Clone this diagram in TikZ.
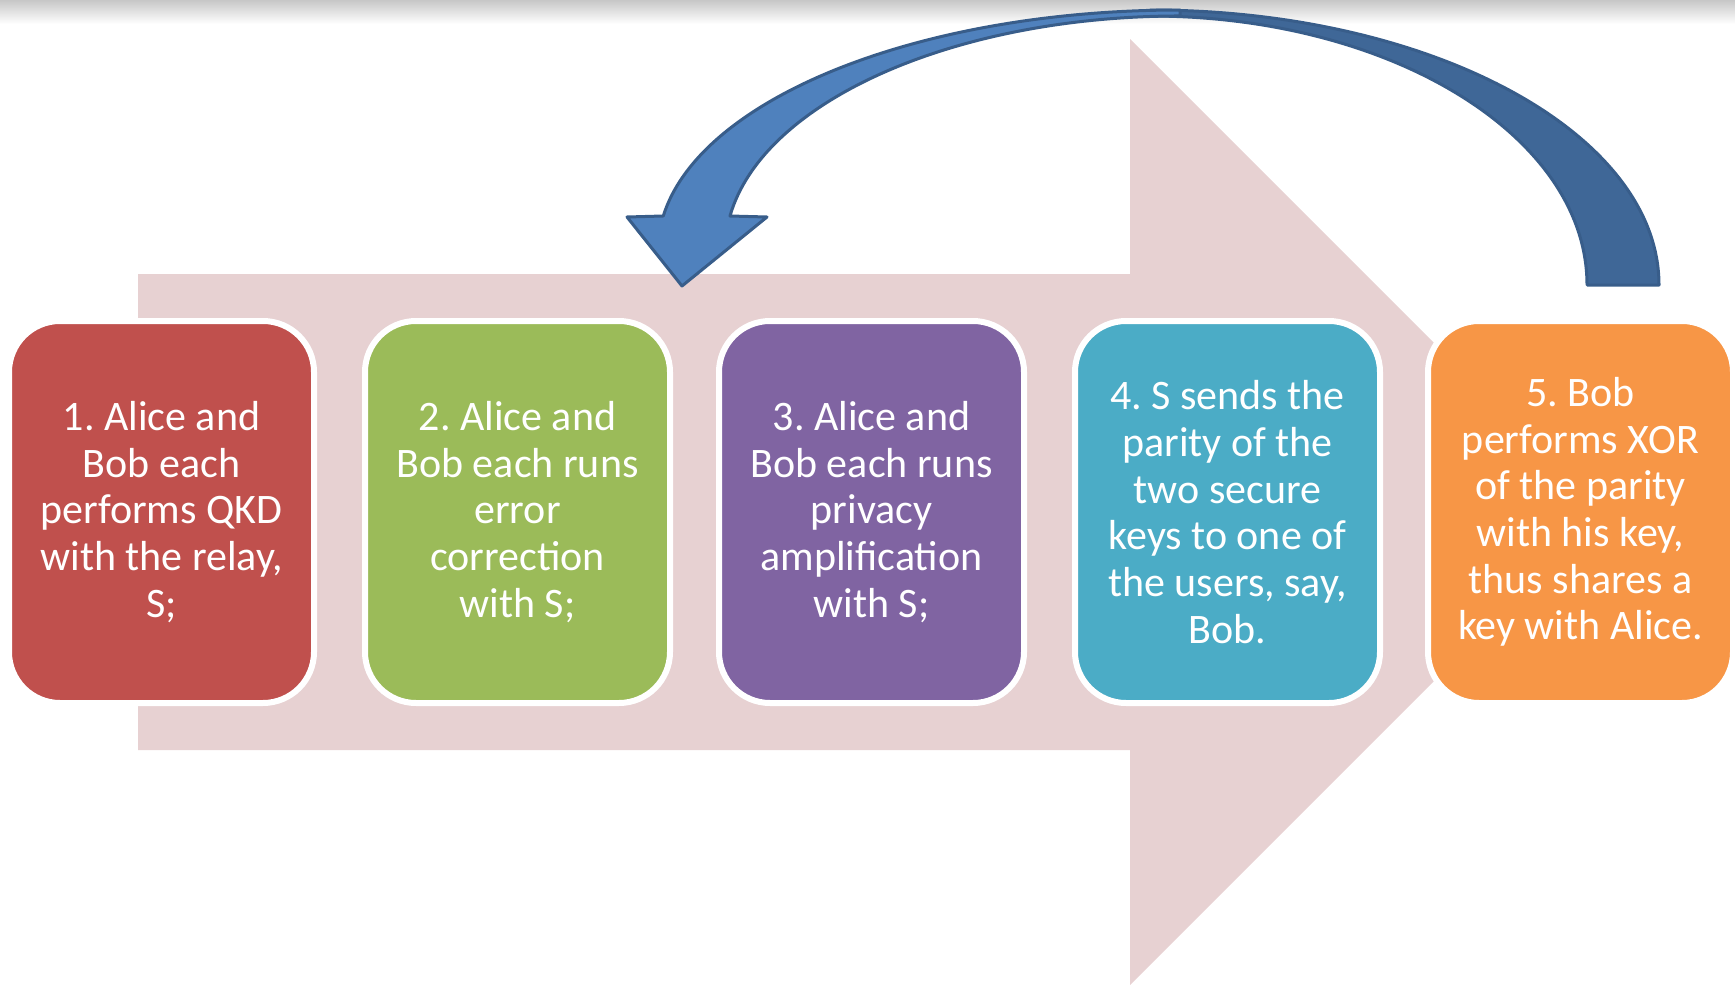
\documentclass[tikz,border=0pt]{standalone}
\usepackage{fontspec}
\setmainfont{Carlito}
\frenchspacing
\definecolor{pinkbg}{RGB}{231,209,210}
\definecolor{cred}{RGB}{192,80,77}
\definecolor{cgreen}{RGB}{155,187,89}
\definecolor{cpurple}{RGB}{128,100,162}
\definecolor{cteal}{RGB}{75,172,198}
\definecolor{corange}{RGB}{247,150,70}
\definecolor{blight}{RGB}{79,129,189}
\definecolor{bdark}{RGB}{63,103,151}
\definecolor{bline}{RGB}{56,93,138}
\begin{document}
\begin{tikzpicture}[x=1pt,y=-1pt,
  stepbox/.style={draw=white, line width=6pt, rounded corners=51pt,
    minimum width=305pt, minimum height=382pt, text=white, align=center,
    font=\fontsize{42}{46.7}\selectfont\frenchspacing, inner sep=0pt, outer sep=0pt,
    anchor=north west},
  bluearrow/.style={draw=bline, line width=3pt, line join=round}]
\useasboundingbox (0,0) rectangle (1735,985);
% top shadow
\shade[top color=black!22, bottom color=white] (0,0) rectangle (1735,24);
% big pink arrow
\fill[pinkbg] (138,274) -- (1130,274) -- (1130,39) -- (1603,512) -- (1130,985) -- (1130,750) -- (138,750) -- cycle;
% curved arrow: back (dark) part
\path[bluearrow, fill=bdark] (1150,10) arc[start angle=90, end angle=0, x radius=509pt, y radius=275pt]
  -- (1587,285) arc[start angle=0, end angle=90, x radius=437pt, y radius=269pt] -- cycle;
% curved arrow: front (light) part with head
\path[bluearrow, fill=blight] (663,216) -- (627,217) -- (682,286) -- (767,217) -- (730,216)
  arc[start angle=171.65, end angle=90, x radius=455pt, y radius=234pt]
  -- (1180,10) arc[start angle=90, end angle=171.86, x radius=522pt, y radius=240pt] -- cycle;
% step boxes
\node[stepbox, fill=cred] (s1) at (9,321) {1. Alice and\\Bob each\\performs QKD\\with the relay,\\S;};
\node[stepbox, fill=cgreen] (s2) at (365,321) {2. Alice and\\Bob each runs\\error\\correction\\with S;};
\node[stepbox, fill=cpurple] (s3) at (719,321) {3. Alice and\\Bob each runs\\privacy\\amplification\\with S;};
\node[stepbox, fill=cteal] (s4) at (1075,321) {4. S sends the\\parity of the\\two secure\\keys to one of\\the users, say,\\Bob.};
\node[stepbox, fill=corange] (s5) at (1428,321) {5. Bob\\performs XOR\\of the parity\\with his key,\\thus shares a\\key with Alice.};
\end{tikzpicture}
\end{document}
